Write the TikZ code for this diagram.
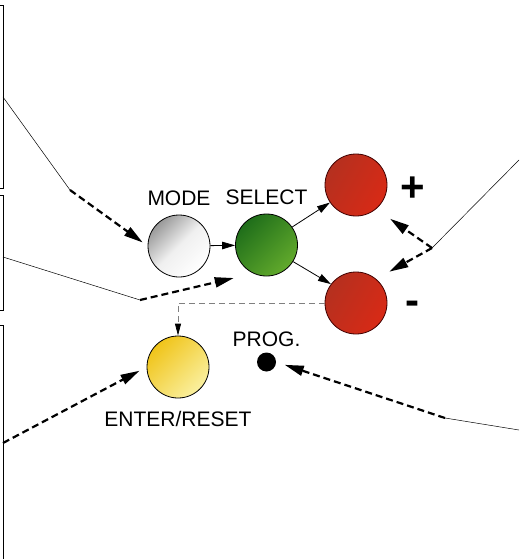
\documentclass[tikz,border=0pt]{standalone}
\usepackage{fontspec}
\setmainfont{Liberation Sans}
\usetikzlibrary{arrows.meta,positioning}

\definecolor{greendark}{HTML}{1F6E1A}
\definecolor{greenlight}{HTML}{62AA2C}
\definecolor{reddark}{HTML}{B5301F}
\definecolor{redlight}{HTML}{D82A16}
\definecolor{yellowdark}{HTML}{F0C419}
\definecolor{yellowlight}{HTML}{FAF0A0}

\tikzset{
  btn/.style={circle,draw=black,line width=0.8pt,minimum size=62pt,inner sep=0pt},
  whitebtn/.style={btn,top color=black!40,bottom color=white,middle color=white!94!black,shading angle=45},
  greenbtn/.style={btn,top color=greendark,bottom color=greenlight,shading angle=45},
  redbtn/.style={btn,top color=reddark,bottom color=redlight,shading angle=60,draw=red!25!black},
  yellowbtn/.style={btn,top color=yellowdark,bottom color=yellowlight,shading angle=45},
  lbl/.style={inner sep=0pt,font=\fontsize{21}{21}\selectfont},
  sign/.style={inner sep=0pt,font=\fontsize{42}{42}\selectfont\bfseries},
  leader/.style={line width=0.5pt},
  dasharr/.style={line width=2.2pt,dash pattern=on 7pt off 4pt,-{Triangle[length=19pt,width=10pt]}},
  solarr/.style={line width=0.8pt,-{Triangle[length=13pt,width=7.5pt]}},
}

\begin{document}
\begin{tikzpicture}[x=1pt,y=-1pt]
\useasboundingbox (0,0) rectangle (519,559);
% side boxes
\draw[line width=0.7pt] (0,5) -| (3,188) -- (0,188);
\draw[line width=0.7pt] (0,195) -| (3,310) -- (0,310);
\draw[line width=0.7pt] (0,325) -| (3,565);
% buttons
\node[whitebtn] (mode) at (179,246) {};
\node[greenbtn] (select) at (266.5,245) {};
\node[redbtn] (plus) at (356,185) {};
\node[redbtn] (minus) at (356,303) {};
\node[yellowbtn] (enter) at (178,367) {};
\node[circle,fill=black,minimum size=19pt,inner sep=0pt] (prog) at (266.5,362) {};
% labels
\node[lbl,above=9pt of mode] (modelbl) {MODE};
\node[lbl,above=9pt of select] (selectlbl) {SELECT};
\node[lbl,below=13pt of enter] (enterlbl) {ENTER/RESET};
\node[lbl,above=5pt of prog] (proglbl) {PROG.};
\node[sign,anchor=base] (plussign) at (413,201.5) {+};
\node[sign,anchor=base] (minussign) at (412,314.5) {-};
% bends
\coordinate (m1) at (3,97);
\coordinate (m2) at (70,190);
\coordinate (s1) at (3,257);
\coordinate (s2) at (140,300);
\coordinate (e1) at (3,443);
\coordinate (r1) at (519,160);
\coordinate (r2) at (432,248);
\coordinate (p1) at (519,430);
\coordinate (p2) at (445,418);
% connectors
\draw[leader] (m1) -- (m2);
\draw[dasharr,shorten >=6pt] (m2) -- (mode.west);
\draw[leader] (s1) -- (s2);
\draw[dasharr,shorten >=20pt] (s2) -- (select.245);
\draw[solarr] (mode) -- (select);
\draw[solarr] (select.35) -- (plus.214);
\draw[solarr] (select.-32) -- (minus.143);
\draw[leader] (r1) -- (r2);
\draw[dasharr,shorten >=17pt] (r2) -- (plus.-50);
\draw[dasharr,shorten >=15pt] (r2) -- (minus.50);
\draw[gray,line width=0.8pt,dash pattern=on 6pt off 4pt,-{Triangle[length=12pt,width=6pt,black]}] (minus.west) -| (enter.north);
\draw[dasharr,shorten >=8pt] (e1) -- (enter.west);
\draw[leader] (p1) -- (p2);
\draw[dasharr,shorten >=9pt] (p2) -- (prog.east);
\end{tikzpicture}
\end{document}
